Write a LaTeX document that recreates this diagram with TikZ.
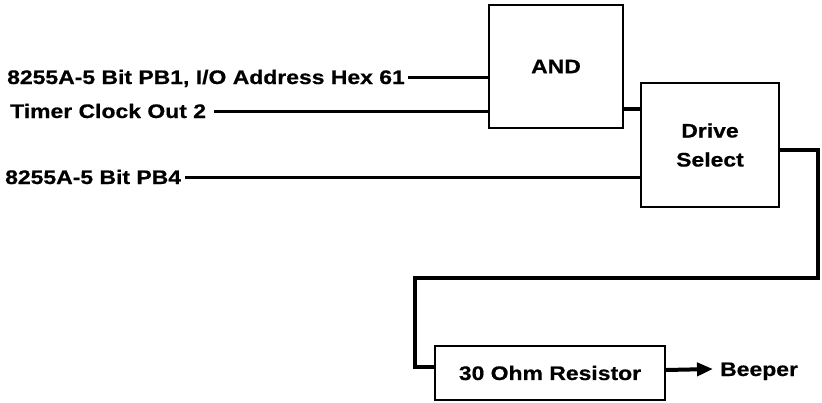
\documentclass[tikz,border=0pt]{standalone}
\usepackage{fontspec}
\setmainfont[FakeStretch=1.17,BoldFeatures={FakeBold=0.6}]{Liberation Sans}
\usetikzlibrary{positioning,arrows.meta}
\newcommand\diagfont{\bfseries\fontsize{19.6}{29}\selectfont}

\begin{document}
\begin{tikzpicture}[x=1pt,y=-1pt,
        box/.style={draw,line width=2pt,align=center,font=\diagfont,inner sep=0pt},
        lbl/.style={font=\diagfont,inner sep=0pt,text height=14pt,text depth=0pt},
        wire/.style={line width=3pt},
        heavy/.style={line width=4pt}
      ]
        \useasboundingbox (0,0) rectangle (822,402);
        % boxes
        \node[box,minimum width=134pt,minimum height=123pt] (and) at (556,66.5) {AND};
        \node[box,minimum width=138pt,minimum height=124pt] (drive) at (710,145) {Drive\\Select};
        \node[box,minimum width=230pt,minimum height=54pt] (res) at (550,373) {30 Ohm Resistor};
        % input labels
        \node[lbl,anchor=west] (pb1) at (7,77) {8255A-5 Bit PB1, I/O Address Hex 61};
        \node[lbl,anchor=west] (clk) at (10,111) {Timer Clock Out 2};
        \node[lbl,anchor=west] (pb4) at (5,177) {8255A-5 Bit PB4};
        \node[lbl,anchor=west] (beep) at (720,369) {Beeper};
        \coordinate (turn) at (818,278);
        % wires
        \draw[wire] ([xshift=3pt]pb1.east) -- (pb1.east -| and.west);
        \draw[wire] ([xshift=8pt]clk.east) -- (clk.east -| and.west);
        \draw[wire] ([xshift=4pt]pb4.east) -- (pb4.east -| drive.west);
        \draw[heavy] ([yshift=20pt]and.south east) -- ([yshift=20pt]and.south east -| drive.west);
        \draw[heavy] ([yshift=-5pt]drive.east) -| (turn) -| ([xshift=-19pt,yshift=6pt]res.west) -- ([yshift=6pt]res.west);
        \draw[heavy,-{Triangle[length=16pt,width=13pt]}] ([yshift=3pt]res.east) -- ([xshift=-7pt]beep.west);
\end{tikzpicture}
\end{document}
